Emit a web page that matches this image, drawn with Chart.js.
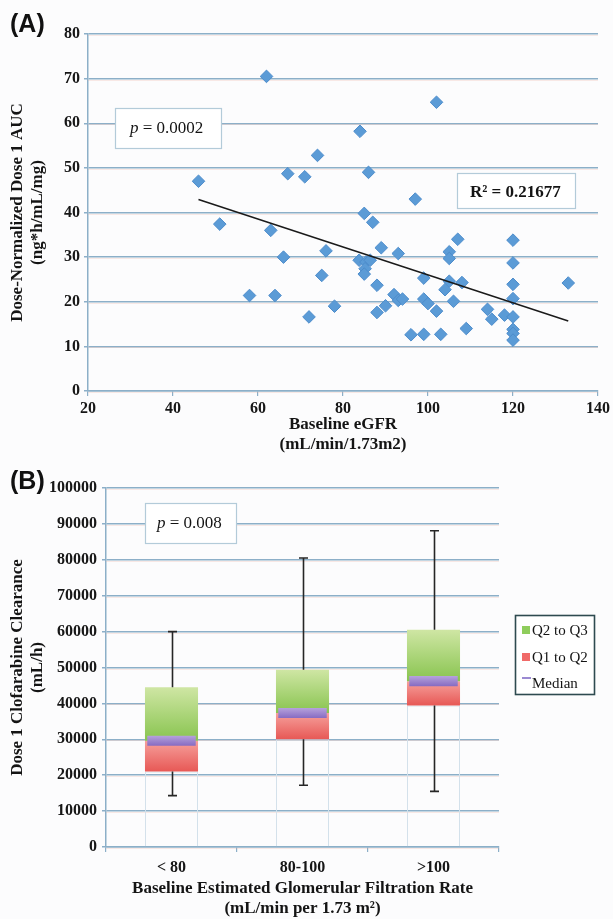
<!DOCTYPE html>
<html><head><meta charset="utf-8">
<script src="https://cdn.jsdelivr.net/npm/chart.js@4.4.1/dist/chart.umd.min.js"></script>
<style>
html,body{margin:0;padding:0;background:#fcfcfd;}
#wrap{position:relative;width:613px;height:919px;overflow:hidden;}
canvas{position:absolute;left:0;}
#cA{top:0;} #cB{top:460px;}
</style></head><body>
<div id="wrap"><canvas id="cA" width="613" height="460"></canvas><canvas id="cB" width="613" height="459"></canvas></div>
<script>
// ---------- Panel A data ----------
const egfr = [46,51,58,62,63,64,66,67,71,72,74,75,76,78,84,83.8,85,85.4,85.2,85,86,86.4,87,88,88,89,90,92,93,93,94,96,97,99,99,99,100,102,102,103,104,105,105,105,106,107,108,109,114,115,118,120,120,120,120,120,120,120,120,133];
const auc  = [47,37.4,21.4,70.5,36,21.4,30,48.7,48,16.6,52.8,25.9,31.4,19,58.2,29.3,39.8,28.9,27.4,26.2,49,29.3,37.8,23.7,17.6,32.1,19.1,21.6,30.8,20.3,20.6,12.6,43,25.3,20.6,12.7,19.6,64.7,17.9,12.7,22.7,31.2,29.7,24.6,20.1,34,24.3,14,18.3,16.1,17,33.8,28.7,23.9,20.7,16.6,13.8,12.9,11.4,24.2];
const trendX = [46, 133];
const trendY = [42.9, 15.7];
const xTicksA = [20,40,60,80,100,120,140];
const yTicksA = [0,10,20,30,40,50,60,70,80];

// ---------- Panel B data ----------
const groups  = ['< 80', '80-100', '>100'];
const mins    = [14300, 17200, 15500];
const q1      = [21000, 30000, 39400];
const medians = [29600, 37300, 46200];
const q3      = [44500, 49400, 60500];
const maxs    = [60000, 80500, 88100];
const yTicksB = [0,10000,20000,30000,40000,50000,60000,70000,80000,90000,100000];

const SERIF = "'Liberation Serif','Times New Roman',serif";
Chart.defaults.font.family = SERIF;
Chart.defaults.color = '#161616';
const GRID = '#8cafc8';
const MED_HALF = 1400;

function fringe(chart){
  const c = chart.ctx, a = chart.chartArea, y = chart.scales.y;
  c.save();
  c.strokeStyle = 'rgba(236,165,145,0.22)'; c.lineWidth = 1;
  y.ticks.forEach(t => {
    const py = Math.round(y.getPixelForValue(t.value)) + 1.5;
    c.beginPath(); c.moveTo(a.left, py); c.lineTo(a.right, py); c.stroke();
  });
  c.restore();
}
function labelBox(c, x, y, w, h){
  c.save();
  c.fillStyle = '#ffffff'; c.fillRect(x, y, w, h);
  c.strokeStyle = '#b3cbd9'; c.lineWidth = 1.2; c.strokeRect(x, y, w, h);
  c.restore();
}
function pText(c, x, y, rest){
  c.save(); c.fillStyle = '#141414'; c.textBaseline = 'alphabetic';
  c.font = "italic 17px " + SERIF; c.fillText('p', x, y);
  const w = c.measureText('p').width;
  c.font = "17px " + SERIF; c.fillText(rest, x + w, y);
  c.restore();
}

const panelA = {
  id: 'panelA',
  beforeDatasetsDraw(chart){ fringe(chart); },
  afterDraw(chart){
    const c = chart.ctx;
    c.save();
    c.font = "bold 25px 'Liberation Sans',Arial,sans-serif"; c.fillStyle = '#111';
    c.fillText('(A)', 10, 32);
    c.restore();
    labelBox(c, 115.5, 108.5, 106, 40);
    pText(c, 130, 133, ' = 0.0002');
    labelBox(c, 457.5, 173.5, 118, 35);
    c.save(); c.fillStyle = '#141414'; c.font = "bold 17px " + SERIF;
    c.fillText('R\u00B2 = 0.21677', 470, 197); c.restore();
  }
};

new Chart(document.getElementById('cA'), {
  type: 'scatter',
  data: { datasets: [
    { type: 'line', data: trendX.map((x,i)=>({x, y: trendY[i]})), borderColor: '#1a1a1a', borderWidth: 1.5, pointRadius: 0, fill: false },
    { data: egfr.map((x,i)=>({x, y: auc[i]})), pointStyle: 'rectRot', radius: 6.3, backgroundColor: '#5b9bd6', borderColor: '#4d8ccb', borderWidth: 1 }
  ]},
  options: {
    responsive: false, animation: false, events: [],
    layout: { padding: { top: 34, right: 14, left: 0, bottom: 0 } },
    plugins: { legend: { display: false }, tooltip: { enabled: false } },
    scales: {
      x: { type: 'linear', min: 20, max: 140,
        afterBuildTicks(s){ s.ticks = xTicksA.map(v=>({value:v})); },
        ticks: { font: { size: 16, weight: 'bold' }, padding: 3, color: '#161616' },
        grid: { drawOnChartArea: false, drawTicks: true, tickLength: 5, color: GRID, lineWidth: 1.2 },
        border: { color: GRID, width: 1.5 },
        title: { display: true, text: ['Baseline eGFR', '(mL/min/1.73m2)'], font: { size: 17, weight: 'bold', lineHeight: 1.18 }, padding: { top: 0, bottom: 5 }, color: '#141414' },
        afterFit(s){ s.height = 69; }
      },
      y: { min: 0, max: 80,
        afterBuildTicks(s){ s.ticks = yTicksA.map(v=>({value:v})); },
        ticks: { font: { size: 16, weight: 'bold' }, padding: 4, color: '#161616' },
        grid: { color: GRID, lineWidth: 1.5, tickLength: 4 },
        border: { color: GRID, width: 1.5 },
        title: { display: true, text: ['Dose-Normalized Dose 1 AUC', '(ng*h/mL/mg)'], font: { size: 17, weight: 'bold', lineHeight: 1.18 }, padding: { top: 8, bottom: 0 }, color: '#141414' },
        afterFit(s){ s.width = 88; }
      }
    }
  },
  plugins: [panelA]
});

// ---------- Panel B ----------
function grad(top, bottom, loArr, hiArr, fallback){
  return (ctx) => {
    const chart = ctx.chart, y = chart.scales && chart.scales.y;
    if (!chart.chartArea || !y || ctx.dataIndex === undefined) return fallback;
    const t = y.getPixelForValue(hiArr[ctx.dataIndex]);
    const b = y.getPixelForValue(loArr[ctx.dataIndex]);
    if (!isFinite(t) || !isFinite(b) || t === b) return fallback;
    const g = chart.ctx.createLinearGradient(0, t, 0, b);
    g.addColorStop(0, top); g.addColorStop(1, bottom);
    return g;
  };
}
const medLo = medians.map(m => m - MED_HALF), medHi = medians.map(m => m + MED_HALF);

const panelB = {
  id: 'panelB',
  beforeDatasetsDraw(chart){ fringe(chart); },
  afterDatasetsDraw(chart){
    const c = chart.ctx, x = chart.scales.x, y = chart.scales.y;
    c.save(); c.strokeStyle = '#262626'; c.lineWidth = 1.6;
    groups.forEach((g, i) => {
      const cx = Math.round(x.getPixelForValue(i)) + 0.5;
      const pMax = y.getPixelForValue(maxs[i]), pQ3 = y.getPixelForValue(q3[i]);
      const pMin = y.getPixelForValue(mins[i]), pQ1 = y.getPixelForValue(q1[i]);
      c.beginPath();
      c.moveTo(cx, pQ3); c.lineTo(cx, pMax);
      c.moveTo(cx - 4.5, pMax); c.lineTo(cx + 4.5, pMax);
      c.moveTo(cx, pQ1); c.lineTo(cx, pMin);
      c.moveTo(cx - 4.5, pMin); c.lineTo(cx + 4.5, pMin);
      c.stroke();
    });
    c.restore();
  },
  afterDraw(chart){
    const c = chart.ctx;
    c.save();
    c.font = "bold 25px 'Liberation Sans',Arial,sans-serif"; c.fillStyle = '#111';
    c.fillText('(B)', 10, 29);
    c.restore();
    labelBox(c, 145.5, 43.5, 91, 40);
    pText(c, 157, 68, ' = 0.008');
    // legend
    c.save();
    c.fillStyle = '#ffffff'; c.fillRect(515, 155, 80, 80);
    c.strokeStyle = '#2e4a50'; c.lineWidth = 1.6; c.strokeRect(515.5, 155.5, 79, 79);
    c.fillStyle = '#8fcd5c'; c.fillRect(522, 166, 8, 8);
    c.fillStyle = '#f06a68'; c.fillRect(522, 193, 8, 8);
    c.strokeStyle = '#9b8ad2'; c.lineWidth = 2; c.beginPath(); c.moveTo(522, 218); c.lineTo(531, 218); c.stroke();
    c.font = "15px " + SERIF; c.fillStyle = '#141414';
    c.fillText('Q2 to Q3', 532, 175);
    c.fillText('Q1 to Q2', 532, 202);
    c.fillText('Median', 532, 228);
    c.restore();
  }
};

const barCommon = { grouped: false, categoryPercentage: 1, barPercentage: 0.405, borderWidth: 0 };
new Chart(document.getElementById('cB'), {
  type: 'bar',
  data: { labels: groups, datasets: [
    Object.assign({}, barCommon, { label: 'Median', data: medians.map((m,i)=>[medLo[i], medHi[i]]), barPercentage: 0.37,
      backgroundColor: grad('#b6a2dc', '#866bc2', medLo, medHi, '#9f88d0'), order: 0 }),
    Object.assign({}, barCommon, { label: 'Q2 to Q3', data: medians.map((m,i)=>[m, q3[i]]),
      backgroundColor: grad('#cfe6a4', '#88c44f', medians, q3, '#a8d77a'), order: 1 }),
    Object.assign({}, barCommon, { label: 'Q1 to Q2', data: q1.map((v,i)=>[v, medians[i]]),
      backgroundColor: grad('#f6a09c', '#e75855', q1, medians, '#f08080'), order: 2 }),
    Object.assign({}, barCommon, { label: 'base', data: q1.map(v=>[0, v]), backgroundColor: 'rgba(0,0,0,0)',
      borderColor: '#d3e1eb', borderWidth: 1, order: 3 })
  ]},
  options: {
    responsive: false, animation: false, events: [],
    layout: { padding: { top: 28, right: 114, left: 0, bottom: 0 } },
    plugins: { legend: { display: false }, tooltip: { enabled: false } },
    scales: {
      x: {
        ticks: { font: { size: 16, weight: 'bold' }, padding: 6, color: '#161616' },
        grid: { drawOnChartArea: false, drawTicks: true, tickLength: 5, color: GRID, lineWidth: 1.2, offset: true },
        border: { color: GRID, width: 1.5 },
        title: { display: true, text: ['Baseline Estimated Glomerular Filtration Rate', '(mL/min per 1.73 m\u00B2)'], font: { size: 17, weight: 'bold', lineHeight: 1.18 }, padding: { top: 0, bottom: 0 }, color: '#141414' },
        afterFit(s){ s.height = 72; }
      },
      y: { min: 0, max: 100000,
        afterBuildTicks(s){ s.ticks = yTicksB.map(v=>({value:v})); },
        ticks: { font: { size: 16, weight: 'bold' }, padding: 5, color: '#161616', callback: v => String(v) },
        grid: { color: GRID, lineWidth: 1.5, tickLength: 4 },
        border: { color: GRID, width: 1.5 },
        title: { display: true, text: ['Dose 1 Clofarabine Clearance', '(mL/h)'], font: { size: 17, weight: 'bold', lineHeight: 1.18 }, padding: { top: 8, bottom: 0 }, color: '#141414' },
        afterFit(s){ s.width = 106; }
      }
    }
  },
  plugins: [panelB]
});
</script>
</body></html>
